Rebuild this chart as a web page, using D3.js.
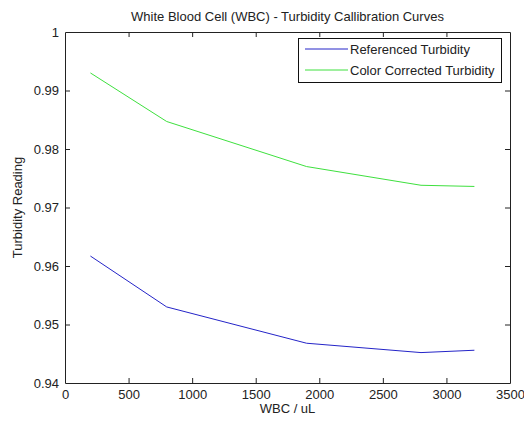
<!DOCTYPE html>
<html>
<head>
<meta charset="utf-8">
<script src="https://cdn.jsdelivr.net/npm/d3@7"></script>
<style>
  html, body { margin: 0; padding: 0; background: #fff; }
  svg { display: block; font-family: "Liberation Sans", Arial, Helvetica, sans-serif; }
</style>
</head>
<body>
<svg id="chart" width="524" height="422"></svg>
<script>
const wbc = [200, 800, 1900, 2800, 3220];
const referencedTurbidity = [0.9617, 0.9530, 0.9468, 0.9452, 0.9456];
const colorCorrectedTurbidity = [0.9930, 0.9847, 0.9770, 0.9738, 0.9736];
const xTicks = [0, 500, 1000, 1500, 2000, 2500, 3000, 3500];
const yTicks = [0.94, 0.95, 0.96, 0.97, 0.98, 0.99, 1];
const yTickLabels = ["0.94", "0.95", "0.96", "0.97", "0.98", "0.99", "1"];
const seriesNames = ["Referenced Turbidity", "Color Corrected Turbidity"];
const seriesColors = ["#2424c8", "#3ee03e"];

const svg = d3.select("#chart");
const m = { left: 65, right: 14, top: 32, bottom: 39 };
const W = 524, H = 422;
const x = d3.scaleLinear().domain([0, 3500]).range([m.left, W - m.right]);
const y = d3.scaleLinear().domain([0.94, 1]).range([H - m.bottom, m.top]);

const series = [referencedTurbidity, colorCorrectedTurbidity];
const line = d3.line().x(d => x(d[0])).y(d => y(d[1]));
series.forEach((vals, i) => {
  svg.append("path")
    .datum(wbc.map((w, j) => [w, vals[j]]))
    .attr("fill", "none")
    .attr("stroke", seriesColors[i])
    .attr("stroke-width", 1)
    .attr("d", line);
});

const axisColor = "#222";
const tickFont = 13;
const gb = svg.append("g").attr("transform", `translate(0,${y(0.94)})`)
  .call(d3.axisBottom(x).tickValues(xTicks).tickFormat(d3.format("d")).tickSizeInner(-5).tickSizeOuter(0).tickPadding(7));
const gt = svg.append("g").attr("transform", `translate(0,${y(1)})`)
  .call(d3.axisTop(x).tickValues(xTicks).tickFormat("").tickSizeInner(-5).tickSizeOuter(0));
const gl = svg.append("g").attr("transform", `translate(${x(0)},0)`)
  .call(d3.axisLeft(y).tickValues(yTicks).tickFormat((d, i) => yTickLabels[i]).tickSizeInner(-5).tickSizeOuter(0).tickPadding(6));
const gr = svg.append("g").attr("transform", `translate(${x(3500)},0)`)
  .call(d3.axisRight(y).tickValues(yTicks).tickFormat("").tickSizeInner(-5).tickSizeOuter(0));
[gb, gt, gl, gr].forEach(g => {
  g.selectAll("path.domain").attr("stroke", axisColor).attr("stroke-width", 1);
  g.selectAll("line").attr("stroke", axisColor);
  g.selectAll("text").attr("fill", "#222").style("font-size", tickFont + "px").style("font-family", "'Liberation Sans', Arial, sans-serif");
});
gb.selectAll(".tick").filter(d => d === 0 || d === 3500).select("line").remove();
gt.selectAll(".tick").filter(d => d === 0 || d === 3500).select("line").remove();
gl.selectAll(".tick").filter(d => d === 0.94 || d === 1).select("line").remove();
gr.selectAll(".tick").filter(d => d === 0.94 || d === 1).select("line").remove();

svg.append("text").attr("x", (x(0) + x(3500)) / 2).attr("y", 21)
  .attr("text-anchor", "middle").style("font-size", "13px").attr("fill", "#222")
  .text("White Blood Cell (WBC) - Turbidity Callibration Curves");
svg.append("text").attr("x", (x(0) + x(3500)) / 2).attr("y", 413)
  .attr("text-anchor", "middle").style("font-size", "13px").attr("fill", "#222")
  .text("WBC / uL");
svg.append("text").attr("transform", `translate(22,${(y(0.94) + y(1)) / 2}) rotate(-90)`)
  .attr("text-anchor", "middle").style("font-size", "13px").attr("fill", "#222")
  .text("Turbidity Reading");

const lg = svg.append("g");
lg.append("rect").attr("x", 298.5).attr("y", 38.5).attr("width", 203).attr("height", 44)
  .attr("fill", "#fff").attr("stroke", "#111").attr("stroke-width", 1);
seriesNames.forEach((name, i) => {
  const cy = 49 + i * 21;
  lg.append("line").attr("x1", 305).attr("x2", 348).attr("y1", cy).attr("y2", cy)
    .attr("stroke", seriesColors[i]).attr("stroke-width", 1);
  lg.append("text").attr("x", 350).attr("y", cy + 4.5).style("font-size", "13px").attr("fill", "#222").text(name);
});
</script>
</body>
</html>
